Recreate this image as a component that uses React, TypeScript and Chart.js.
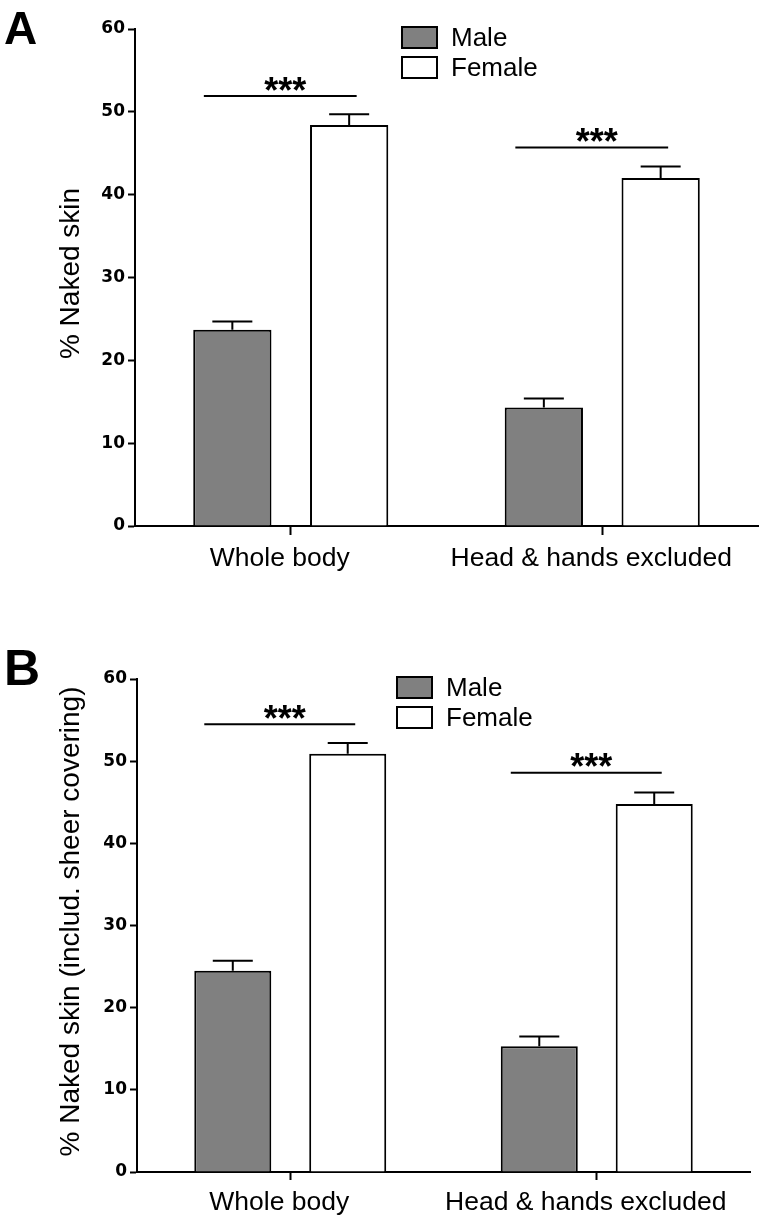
import React, { useEffect, useRef } from "react";
import { Chart, registerables } from "chart.js";

Chart.register(...registerables);

// ---------- data ----------
const categories = ["Whole body", "Head & hands excluded"];
const seriesLabels = ["Male", "Female"];
const yTicks = [0, 10, 20, 30, 40, 50, 60];

const maleA = [23.7, 14.3];
const maleErrA = [1.0, 1.1];
const femaleA = [48.4, 42.0];
const femaleErrA = [1.3, 1.4];
const sigLevelA = [51.9, 45.7];
const sigTextA = ["***", "***"];

const maleB = [24.5, 15.3];
const maleErrB = [1.2, 1.2];
const femaleB = [50.9, 44.8];
const femaleErrB = [1.3, 1.4];
const sigLevelB = [54.5, 48.6];
const sigTextB = ["***", "***"];

const yTitleA = "% Naked skin";
const yTitleB = "% Naked skin (includ. sheer covering)";

const MALE_COLOR = "#808080";
const FEMALE_COLOR = "#ffffff";
const SANS = "'Liberation Sans', Arial, sans-serif";
const DEJAVU = "'DejaVu Sans', sans-serif";

type Panel = {
  letter: string;
  letterSize: number;
  letterBase: number;
  yTitle: string;
  male: number[];
  maleErr: number[];
  female: number[];
  femaleErr: number[];
  sig: number[];
  sigText: string[];
  padTop: number;
  padRight: number;
  yWidth: number;
  xHeight: number;
  xTick: number;
  xPad: number;
  legendX: number;
  legendY: number;
  legendTextX: number;
};

const overlay = {
  id: "overlay",
  afterDatasetsDraw(chart: any, _args: any, opts: any) {
    const p: Panel = opts.panel;
    const ctx = chart.ctx;
    const y = chart.scales.y;
    const errs = [p.maleErr, p.femaleErr];
    const vals = [p.male, p.female];
    ctx.save();
    ctx.strokeStyle = "#000";
    ctx.lineWidth = 2;
    // error bars
    for (let d = 0; d < 2; d++) {
      const meta = chart.getDatasetMeta(d);
      meta.data.forEach((el: any, i: number) => {
        const top = y.getPixelForValue(vals[d][i]);
        const ey = y.getPixelForValue(vals[d][i] + errs[d][i]);
        ctx.beginPath();
        ctx.moveTo(el.x, top);
        ctx.lineTo(el.x, ey);
        ctx.moveTo(el.x - 20, ey);
        ctx.lineTo(el.x + 20, ey);
        ctx.stroke();
      });
    }
    // significance lines
    const m0 = chart.getDatasetMeta(0);
    const m1 = chart.getDatasetMeta(1);
    ctx.fillStyle = "#000";
    ctx.font = `bold 36px ${SANS}`;
    ctx.textAlign = "center";
    ctx.textBaseline = "alphabetic";
    p.sig.forEach((lvl, i) => {
      const x0 = m0.data[i].x - 28.5;
      const x1 = m1.data[i].x + 7.5;
      const ly = y.getPixelForValue(lvl);
      ctx.beginPath();
      ctx.moveTo(x0, ly);
      ctx.lineTo(x1, ly);
      ctx.stroke();
      const mt = ctx.measureText(p.sigText[i]);
      const asc = mt.actualBoundingBoxAscent;
      const desc = mt.actualBoundingBoxDescent;
      const baseY = ly - 12.5 - (desc - asc) / 2;
      ctx.fillText(p.sigText[i], (x0 + x1) / 2 + 5, baseY);
    });
    ctx.restore();
  },
  afterDraw(chart: any, _args: any, opts: any) {
    const p: Panel = opts.panel;
    const ctx = chart.ctx;
    const area = chart.chartArea;
    ctx.save();
    // legend
    const colors = [MALE_COLOR, FEMALE_COLOR];
    ctx.font = `26px ${SANS}`;
    ctx.textAlign = "left";
    ctx.textBaseline = "alphabetic";
    seriesLabels.forEach((lab, i) => {
      const by = p.legendY + i * 30;
      ctx.fillStyle = colors[i];
      ctx.fillRect(p.legendX, by, 37, 23);
      ctx.strokeStyle = "#000";
      ctx.lineWidth = 2;
      ctx.strokeRect(p.legendX + 1, by + 1, 35, 21);
      ctx.fillStyle = "#000";
      ctx.fillText(lab, p.legendTextX, by + 20);
    });
    // y title
    ctx.save();
    ctx.translate(71, (area.top + area.bottom) / 2 - 4);
    ctx.rotate(-Math.PI / 2);
    ctx.font = `28px ${SANS}`;
    ctx.textAlign = "center";
    ctx.textBaseline = "middle";
    ctx.fillStyle = "#000";
    ctx.fillText(p.yTitle, 0, 0);
    ctx.restore();
    // panel letter
    ctx.font = `bold ${p.letterSize}px ${SANS}`;
    ctx.textAlign = "left";
    ctx.textBaseline = "alphabetic";
    ctx.fillStyle = "#000";
    ctx.fillText(p.letter, 4, p.letterBase);
    ctx.restore();
  },
};

function makeConfig(p: Panel): any {
  return {
    type: "bar",
    data: {
      labels: categories,
      datasets: [
        {
          label: seriesLabels[0],
          data: p.male,
          backgroundColor: MALE_COLOR,
          borderColor: "#000",
          borderWidth: 2,
          categoryPercentage: 0.75,
          barPercentage: 0.67,
        },
        {
          label: seriesLabels[1],
          data: p.female,
          backgroundColor: FEMALE_COLOR,
          borderColor: "#000",
          borderWidth: 2,
          categoryPercentage: 0.75,
          barPercentage: 0.67,
        },
      ],
    },
    options: {
      responsive: false,
      maintainAspectRatio: false,
      animation: false,
      events: [],
      layout: { padding: { left: 0, right: p.padRight, top: p.padTop, bottom: 0 } },
      plugins: {
        legend: { display: false },
        tooltip: { enabled: false },
        title: { display: false },
        overlay: { panel: p },
      },
      scales: {
        x: {
          type: "category",
          offset: true,
          grid: {
            display: true,
            drawOnChartArea: false,
            drawTicks: true,
            tickLength: p.xTick,
            tickWidth: 2,
            tickColor: "#000",
            offset: false,
          },
          border: { display: true, color: "#000", width: 2 },
          ticks: {
            color: "#000",
            font: { family: SANS, size: 26.5 },
            padding: p.xPad,
            labelOffset: -11,
            maxRotation: 0,
            autoSkip: false,
          },
          afterFit: (s: any) => {
            s.height = p.xHeight;
          },
        },
        y: {
          min: 0,
          max: 60,
          afterBuildTicks: (s: any) => {
            s.ticks = yTicks.map((v) => ({ value: v }));
          },
          grid: {
            display: true,
            drawOnChartArea: false,
            drawTicks: true,
            tickLength: 7,
            tickWidth: 2,
            tickColor: "#000",
          },
          border: { display: true, color: "#000", width: 2 },
          ticks: {
            color: "#000",
            font: { family: DEJAVU, size: 17, weight: "bold" },
            padding: 3,
          },
          afterFit: (s: any) => {
            s.width = p.yWidth;
          },
        },
      },
    },
    plugins: [overlay],
  };
}

const panelA: Panel = {
  letter: "A",
  letterSize: 46,
  letterBase: 44,
  yTitle: yTitleA,
  male: maleA,
  maleErr: maleErrA,
  female: femaleA,
  femaleErr: femaleErrA,
  sig: sigLevelA,
  sigText: sigTextA,
  padTop: 29,
  padRight: 9,
  yWidth: 135,
  xHeight: 86,
  xTick: 9,
  xPad: 8,
  legendX: 401,
  legendY: 26,
  legendTextX: 451,
};

const panelB: Panel = {
  letter: "B",
  letterSize: 50,
  letterBase: 73,
  yTitle: yTitleB,
  male: maleB,
  maleErr: maleErrB,
  female: femaleB,
  femaleErr: femaleErrB,
  sig: sigLevelB,
  sigText: sigTextB,
  padTop: 67,
  padRight: 17,
  yWidth: 137,
  xHeight: 52,
  xTick: 8,
  xPad: 7,
  legendX: 396,
  legendY: 64,
  legendTextX: 446,
};

function PanelChart({ panel, top }: { panel: Panel; top: number }) {
  const ref = useRef<HTMLCanvasElement | null>(null);
  useEffect(() => {
    if (!ref.current) return;
    const chart = new Chart(ref.current, makeConfig(panel));
    return () => chart.destroy();
  }, [panel]);
  return (
    <canvas
      ref={ref}
      width={767}
      height={612}
      style={{ position: "absolute", left: 0, top, width: 767, height: 612, display: "block" }}
    />
  );
}

export default function App() {
  return (
    <div
      style={{
        position: "absolute",
        left: 0,
        top: 0,
        width: 767,
        height: 1224,
        background: "#fff",
        overflow: "hidden",
      }}
    >
      <PanelChart panel={panelA} top={0} />
      <PanelChart panel={panelB} top={612} />
    </div>
  );
}
